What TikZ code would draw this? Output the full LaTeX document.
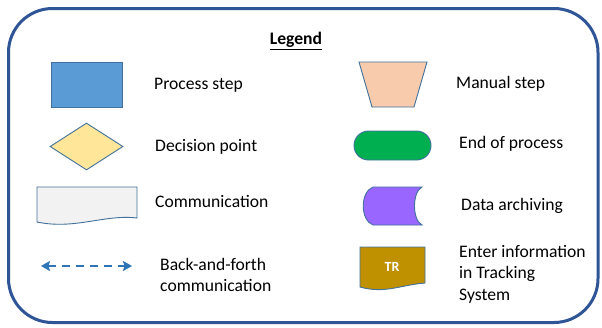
\documentclass[tikz,border=0pt]{standalone}
\usepackage{fontspec}
\setmainfont{Carlito}
\usetikzlibrary{arrows.meta,shapes.geometric,shapes.misc}
\definecolor{outerblue}{HTML}{2F5597}
\definecolor{edgeblue}{HTML}{41719C}
\definecolor{procfill}{HTML}{5B9BD5}
\definecolor{manfill}{HTML}{F8CBAD}
\definecolor{decfill}{HTML}{FFE699}
\definecolor{endfill}{HTML}{00B050}
\definecolor{comfill}{HTML}{F2F2F2}
\definecolor{archfill}{HTML}{9966FF}
\definecolor{trfill}{HTML}{BF9000}
\definecolor{arrowblue}{HTML}{2E75B6}
\tikzset{
  x=1pt, y=-1pt,
  lbl/.style={anchor=west, font=\fontsize{17.6}{21.6}\selectfont, inner sep=0pt, align=left},
  shapeedge/.style={draw=edgeblue, line width=0.9pt},
  bfarrow/.style={draw=arrowblue, line width=2.2pt, dash pattern=on 8pt off 6pt,
    {Stealth[length=9pt,width=10pt,inset=1.5pt]}-{Stealth[length=9pt,width=10pt,inset=1.5pt]}}
}
\begin{document}
\begin{tikzpicture}
\useasboundingbox (0,0) rectangle (602,327);
\fill[white] (0,0) rectangle (602,327);
% outer frame
\draw[outerblue, line width=3pt, rounded corners=44pt] (8.5,8.5) rectangle (598,322.5);
% title
\node[font=\fontsize{17.6}{21}\selectfont\bfseries, inner sep=0pt] (title) at (296,41) {\underline{Legend}};
% process step
\node[shapeedge, fill=procfill, minimum width=71pt, minimum height=45pt, inner sep=0pt] (proc) at (86.5,84.5) {};
\node[lbl] (proct) at (154,85) {Process step};
% manual step
\draw[shapeedge, fill=manfill] (359,62) -- (427,62) -- (414,107) -- (372,107) -- cycle;
\coordinate (man) at (393,84);
\node[lbl] (mant) at (456,84) {Manual step};
% decision
\node[shapeedge, fill=decfill, diamond, minimum width=73pt, minimum height=47pt, inner sep=0pt] (dec) at (86.5,146.5) {};
\node[lbl] (dect) at (155,147) {Decision point};
% end of process
\node[shapeedge, fill=endfill, rounded rectangle, minimum width=77pt, minimum height=29pt, inner sep=0pt] (endp) at (392.5,145.5) {};
\node[lbl] (endt) at (459,144) {End of process};
% communication
\draw[shapeedge, fill=comfill] (37,187) -- (137,187) -- (137,218)
   .. controls (105,214) and (75,230) .. (37,222) -- cycle;
\node[lbl] (comt) at (155,201) {Communication};
% data archiving
\draw[shapeedge, fill=archfill] (373,187) -- (422,187)
   .. controls (412,192) and (412,220) .. (422,225) -- (373,225)
   .. controls (360,220) and (360,192) .. (373,187) -- cycle;
\node[lbl] (archt) at (461,206) {Data archiving};
% back and forth arrow
\coordinate (al) at (41,266);
\coordinate (ar) at (132,266);
\draw[bfarrow] (al) -- (ar);
\node[lbl] (bft) at (160,275) {Back-and-forth\\communication};
% TR
\draw[shapeedge, fill=trfill] (360,247) -- (425,247) -- (425,283)
   .. controls (400,285) and (385,294) .. (360,287) -- cycle;
\node[text=white, font=\fontsize{14}{16}\selectfont\bfseries, inner sep=0pt] (tr) at (392,267) {TR};
\node[lbl] (trt) at (459,274) {Enter information\\in Tracking\\System};
\end{tikzpicture}
\end{document}
